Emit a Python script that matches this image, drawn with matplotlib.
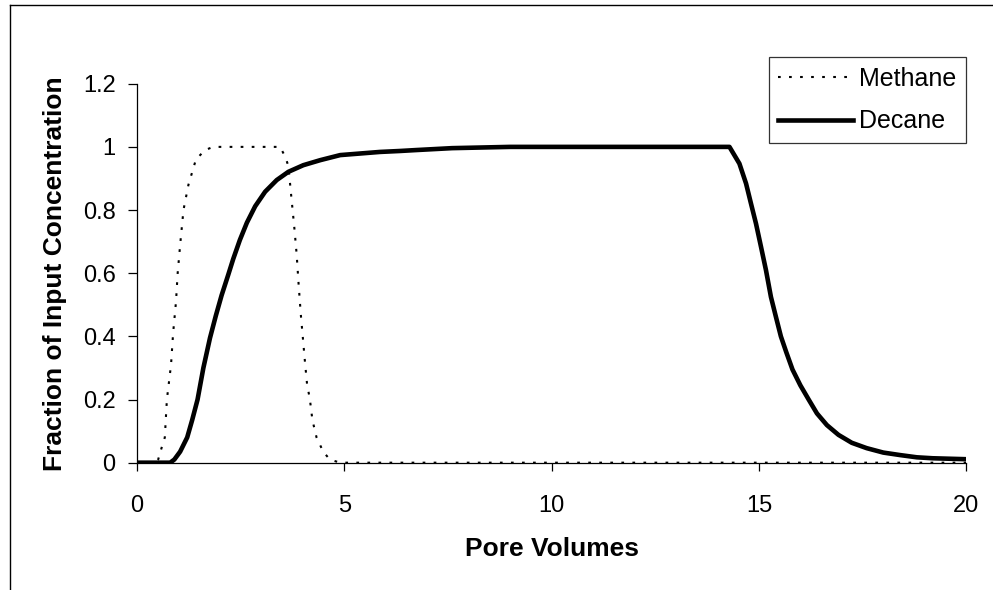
import matplotlib
matplotlib.use("Agg")
import matplotlib.pyplot as plt
from matplotlib.lines import Line2D
from matplotlib.ticker import FuncFormatter

plt.rcParams['font.family'] = ['Liberation Sans', 'DejaVu Sans']

# breakthrough curves (fraction of input concentration vs pore volumes)
methane_pv = [0, 0.45, 0.51, 0.59, 0.67, 0.72, 0.82, 0.87, 0.94, 0.98, 1.04, 1.12,
              1.24, 1.42, 1.64, 1.84, 3.45, 3.57, 3.65, 3.73, 3.79, 3.85, 3.90,
              3.95, 3.99, 4.05, 4.10, 4.17, 4.23, 4.33, 4.49, 4.65, 4.9, 20]
methane_c = [0, 0, 0.01, 0.046, 0.08, 0.2, 0.31, 0.41, 0.51, 0.6, 0.69, 0.8,
             0.88, 0.96, 0.99, 1.0, 1.0, 0.97, 0.94, 0.83, 0.75, 0.66, 0.56,
             0.47, 0.41, 0.32, 0.25, 0.2, 0.135, 0.08, 0.035, 0.01, 0, 0]

decane_pv = [0, 0.8, 0.9, 1.04, 1.21, 1.33, 1.46, 1.6, 1.76, 1.9, 2.04, 2.2,
             2.32, 2.48, 2.65, 2.85, 3.09, 3.37, 3.65, 4.01, 4.42, 4.9, 5.38,
             5.86, 6.34, 6.74, 7.6, 9.0, 14.29, 14.53, 14.69, 14.81, 14.93,
             15.05, 15.17, 15.29, 15.41, 15.53, 15.66, 15.81, 16.0, 16.2, 16.4,
             16.64, 16.92, 17.24, 17.6, 18.0, 18.41, 18.81, 19.19, 20.0]
decane_c = [0, 0, 0.01, 0.035, 0.08, 0.135, 0.2, 0.3, 0.395, 0.465, 0.53, 0.595,
            0.645, 0.705, 0.76, 0.812, 0.858, 0.895, 0.921, 0.942, 0.958, 0.974,
            0.979, 0.984, 0.987, 0.99, 0.996, 1.0, 1.0, 0.947, 0.884, 0.82,
            0.757, 0.684, 0.61, 0.525, 0.462, 0.40, 0.35, 0.295, 0.245, 0.2,
            0.156, 0.119, 0.088, 0.063, 0.046, 0.032, 0.024, 0.017, 0.014, 0.011]

x_ticks = [0, 5, 10, 15, 20]
y_ticks = [0, 0.2, 0.4, 0.6, 0.8, 1.0, 1.2]

fig = plt.figure(figsize=(9.93, 5.90), dpi=100)
ax = fig.add_axes([0.138, 0.2158, 0.835, 0.6423])

ax.plot(methane_pv, methane_c, color='black', lw=1.5, dashes=(1.3, 4.0),
        label='Methane')
ax.plot(decane_pv, decane_c, color='black', lw=3.3, label='Decane',
        solid_joinstyle='round')

ax.set_xlim(0, 20)
ax.set_ylim(0, 1.2)
ax.set_xticks(x_ticks)
ax.set_yticks(y_ticks)
ax.yaxis.set_major_formatter(FuncFormatter(lambda v, p: '%g' % v))

for side in ('top', 'right'):
    ax.spines[side].set_visible(False)
for side in ('left', 'bottom'):
    ax.spines[side].set_linewidth(0.9)
ax.tick_params(axis='y', direction='out', length=6.5, width=0.9, pad=9,
               labelsize=17)
ax.tick_params(axis='x', direction='out', length=6, width=0.9, pad=17,
               labelsize=17)

ax.set_xlabel('Pore Volumes', fontsize=19, fontweight='bold', labelpad=15)
ax.set_ylabel('Fraction of Input Concentration', fontsize=19,
              fontweight='bold', labelpad=11)

leg = ax.legend(loc='upper right', bbox_to_anchor=(1.0, 1.07), fontsize=18,
                frameon=True, fancybox=False, edgecolor='black',
                handlelength=3.0, handletextpad=0.25, labelspacing=0.75,
                borderpad=0.38, borderaxespad=0)
leg.get_frame().set_linewidth(0.9)

# chart-area border on the left and top
fig.add_artist(Line2D([0.0096, 0.0096], [0, 0.9915], transform=fig.transFigure,
                      color='black', lw=1.0))
fig.add_artist(Line2D([0.0096, 1.0], [0.9915, 0.9915], transform=fig.transFigure,
                      color='black', lw=1.0))

fig.savefig('out.png', dpi=100)
